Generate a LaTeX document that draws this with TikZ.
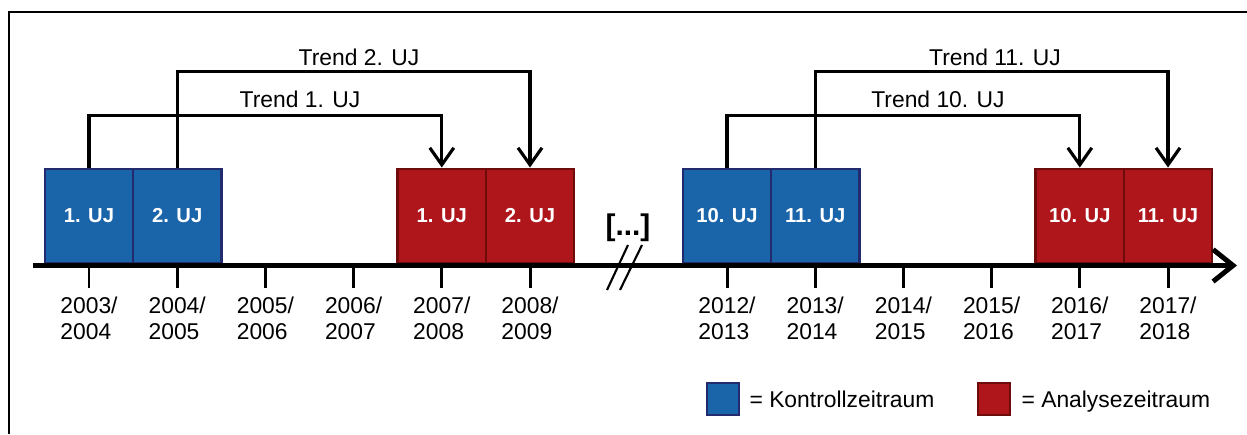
\documentclass[tikz,border=0pt]{standalone}
\usepackage{fontspec}
\setmainfont{Liberation Sans}
\usepackage{xcolor}
\usetikzlibrary{arrows.meta,positioning,calc}
\definecolor{kblue}{HTML}{1A64AA}
\definecolor{kline}{HTML}{232A6E}
\definecolor{ared}{HTML}{AF161C}
\definecolor{aline}{HTML}{6E0C0C}
\tikzset{
  ujbox/.style={minimum width=1.764cm, minimum height=1.88cm, inner sep=0pt,
    line width=1.4pt, text=white, anchor=south,
    font=\fontsize{11.5}{13}\selectfont\bfseries},
  kbox/.style={ujbox, draw=kline, fill=kblue},
  abox/.style={ujbox, draw=aline, fill=ared},
  legbox/.style={minimum size=0.64cm, inner sep=0pt, line width=1.4pt},
  legtext/.style={inner sep=0pt, text depth=0pt},
  yearlab/.style={anchor=north, align=left, inner sep=0pt,
    font=\fontsize{13}{14.8}\selectfont},
  trendline/.style={line width=1.8pt, -{Straight Barb[length=3.4mm, width=4.8mm]}},
}

\begin{document}
\begin{tikzpicture}[font=\fontsize{13}{15.6}\selectfont, x=1cm, y=1cm]
\useasboundingbox (0,0) rectangle (24.94,8.68);
% frame (top and left edge only)
\draw[line width=0.8pt] (0.18,0) -- (0.18,8.44) -- (24.94,8.44);
% ---------------- time axis ----------------
\coordinate (axstart) at (0.66,3.37);
\coordinate (axend) at (24.74,3.37);
\foreach \x/\a/\b in {1.78/2003/2004, 3.544/2004/2005, 5.308/2005/2006,
    7.072/2006/2007, 8.836/2007/2008, 10.60/2008/2009,
    14.54/2012/2013, 16.304/2013/2014, 18.068/2014/2015,
    19.832/2015/2016, 21.596/2016/2017, 23.36/2017/2018}{
  \draw[line width=1.7pt] (\x,3.37) -- (\x,2.92);
  \node[yearlab] (y\a) at (\x,2.74) {\a/\\\b};
}
% ---------------- first block: 1. and 2. UJ ----------------
\node[kbox] (k1) at (1.78,3.40) {1. UJ};
\node[kbox] (k2) at (3.544,3.40) {2. UJ};
\node[abox] (a1) at (8.836,3.40) {1. UJ};
\node[abox] (a2) at (10.60,3.40) {2. UJ};
\draw[trendline] (k1.north) -- ++(0,1.04) -| (a1.north);
\draw[trendline] (k2.north) -- ++(0,1.92) -| (a2.north);
\node (t1) at (6.0,6.70) {Trend 1. UJ};
\node (t2) at (7.18,7.54) {Trend 2. UJ};
% break in the axis
\node[font=\fontsize{17}{20}\selectfont\bfseries] (dots) at (12.56,4.12) {[...]};
% ---------------- second block: 10. and 11. UJ ----------------
\node[kbox] (k10) at (14.54,3.40) {10. UJ};
\node[kbox] (k11) at (16.304,3.40) {11. UJ};
\node[abox] (a10) at (21.596,3.40) {10. UJ};
\node[abox] (a11) at (23.36,3.40) {11. UJ};
\draw[trendline] (k10.north) -- ++(0,1.04) -| (a10.north);
\draw[trendline] (k11.north) -- ++(0,1.92) -| (a11.north);
\node (t10) at (18.76,6.70) {Trend 10. UJ};
\node (t11) at (19.90,7.54) {Trend 11. UJ};
% axis on top of the boxes
\draw[line width=2.8pt, -{Straight Barb[length=4mm, width=6.4mm]}] (axstart) -- (axend);
\draw[line width=1.2pt] (12.14,2.88) -- (12.56,3.78);
\draw[line width=1.2pt] (12.40,2.88) -- (12.84,3.78);
% ---------------- legend ----------------
\node[legbox, draw=kline, fill=kblue] (lk) at (14.46,0.70) {};
\node[legtext, right=0.18cm of lk] (lkt) {= Kontrollzeitraum};
\node[legbox, draw=aline, fill=ared] (la) at (19.88,0.70) {};
\node[legtext, right=0.2cm of la] (lat) {= Analysezeitraum};
\end{tikzpicture}
\end{document}
